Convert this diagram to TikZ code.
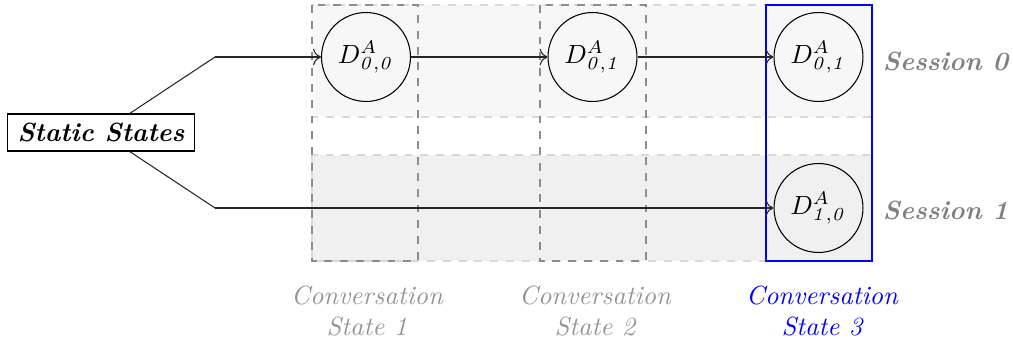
\documentclass[tikz,border=0pt]{standalone}
\usetikzlibrary{arrows.meta}
\begin{document}
\begin{tikzpicture}[x=0.38pt,y=-0.38pt,
  state/.style={circle,draw=black,minimum size=33.8pt,inner sep=0pt,font=\normalsize},
  band0/.style={fill=black!3,draw=black!15,dashed},
  band1/.style={fill=black!6,draw=black!15,dashed},
  col/.style={draw=black!45,dashed},
  curcol/.style={draw=blue,solid},
  sess/.style={text=gray,font=\bfseries\itshape},
  convlbl/.style={text=black!42,font=\itshape,align=center},
  conn/.style={draw=black!85},
  arr/.style={conn,-{To[length=3pt]}}]
\useasboundingbox (0,0) rectangle (1013,345);
% bands
\path[band0] (312,5) rectangle (872,117);
\path[band1] (312,155) rectangle (872,261);
% columns
\draw[col] (312,5) rectangle (418,261);
\draw[col] (540,5) rectangle (646,261);
\draw[curcol] (766,5) rectangle (872,261);
% nodes
\node[draw=black,minimum width=71.06pt,minimum height=14.06pt,inner sep=0pt,font=\bfseries\itshape] (ss) at (101,132.5) {Static States};
\node[state] (d00) at (366,57) {$D^{A}_{\mathit{0,0}}$};
\node[state] (d01a) at (592.5,57) {$D^{A}_{\mathit{0,1}}$};
\node[state] (d01b) at (818.5,57) {$D^{A}_{\mathit{0,1}}$};
\node[state] (d10) at (818.5,208) {$D^{A}_{\mathit{1,0}}$};
\coordinate (k0) at (215,57);
\coordinate (k1) at (215,208);
% connectors
\draw[conn] (ss) -- (k0);
\draw[arr] (k0) -- (d00);
\draw[conn] (ss) -- (k1);
\draw[arr] (k1) -- (d10);
\draw[arr] (d00) -- (d01a);
\draw[arr] (d01a) -- (d01b);
% labels
\node[sess] (s0) at (945.5,61) {Session 0};
\node[sess] (s1) at (945.5,210) {Session 1};
\node[convlbl] (c1) at (367,311) {Conversation\\State 1};
\node[convlbl] (c2) at (595,311) {Conversation\\State 2};
\node[convlbl,text=blue] (c3) at (822,311) {Conversation\\State 3};
\end{tikzpicture}
\end{document}
